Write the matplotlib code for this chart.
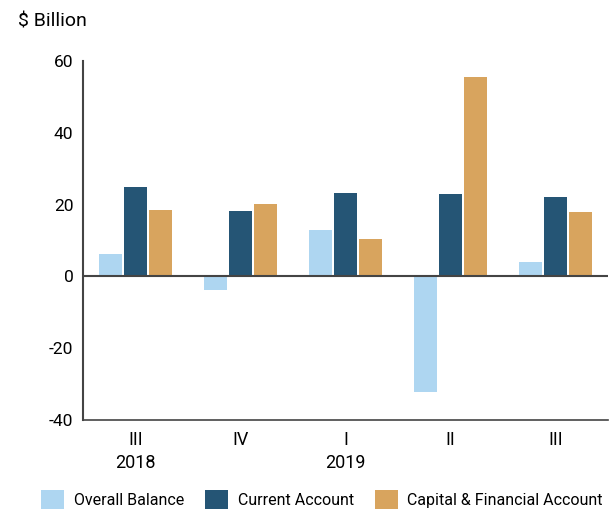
import numpy as np
import matplotlib.pyplot as plt

plt.rcParams['font.family'] = ['Liberation Sans Narrow', 'Roboto', 'DejaVu Sans']

# data
quarters = ['III\n2018', 'IV', 'I\n2019', 'II', 'III']
overall = [6.3, -3.9, 13.0, -32.2, 4.1]
current = [25.0, 18.3, 23.3, 23.0, 22.2]
capital = [18.6, 20.3, 10.5, 55.6, 17.8]
yticks = [-40, -20, 0, 20, 40, 60]

c_ob = '#AED6F1'
c_ca = '#255575'
c_cf = '#D8A45E'

fig = plt.figure(figsize=(6.11, 5.09), dpi=100)
ax = fig.add_axes([0.1358, 0.1749, 0.8592, 0.7053])

x = np.arange(len(quarters))
w = 0.22
off = 0.235
ax.bar(x - off, overall, w, color=c_ob, label='Overall Balance')
ax.bar(x, current, w, color=c_ca, label='Current Account')
ax.bar(x + off, capital, w, color=c_cf, label='Capital & Financial Account')
ax.axhline(0, color='#444444', lw=1.5, zorder=5)

ax.set_xlim(-0.5, len(quarters) - 0.5)
ax.set_ylim(-40, 60)
ax.set_yticks(yticks)
ax.set_yticklabels([str(v) for v in yticks], fontsize=12.5)
ax.set_xticks(x)
ax.set_xticklabels(quarters, fontsize=13, linespacing=1.35)
ax.tick_params(length=0, pad=7)
ax.tick_params(axis='x', pad=8)

for s in ['top', 'right']:
    ax.spines[s].set_visible(False)
ax.spines['left'].set_color('#444444')
ax.spines['bottom'].set_color('#444444')
ax.spines['left'].set_linewidth(1.5)
ax.spines['bottom'].set_linewidth(1.2)

fig.text(0.029, 0.957, '$ Billion', fontsize=14, va='center', ha='left')

fig.legend(loc='lower center', bbox_to_anchor=(0.527, -0.028), ncol=3, frameon=False,
           fontsize=11.5, handlelength=1.45, handleheight=1.45, handletextpad=0.6,
           columnspacing=1.3)

fig.savefig('out.png', dpi=100)
